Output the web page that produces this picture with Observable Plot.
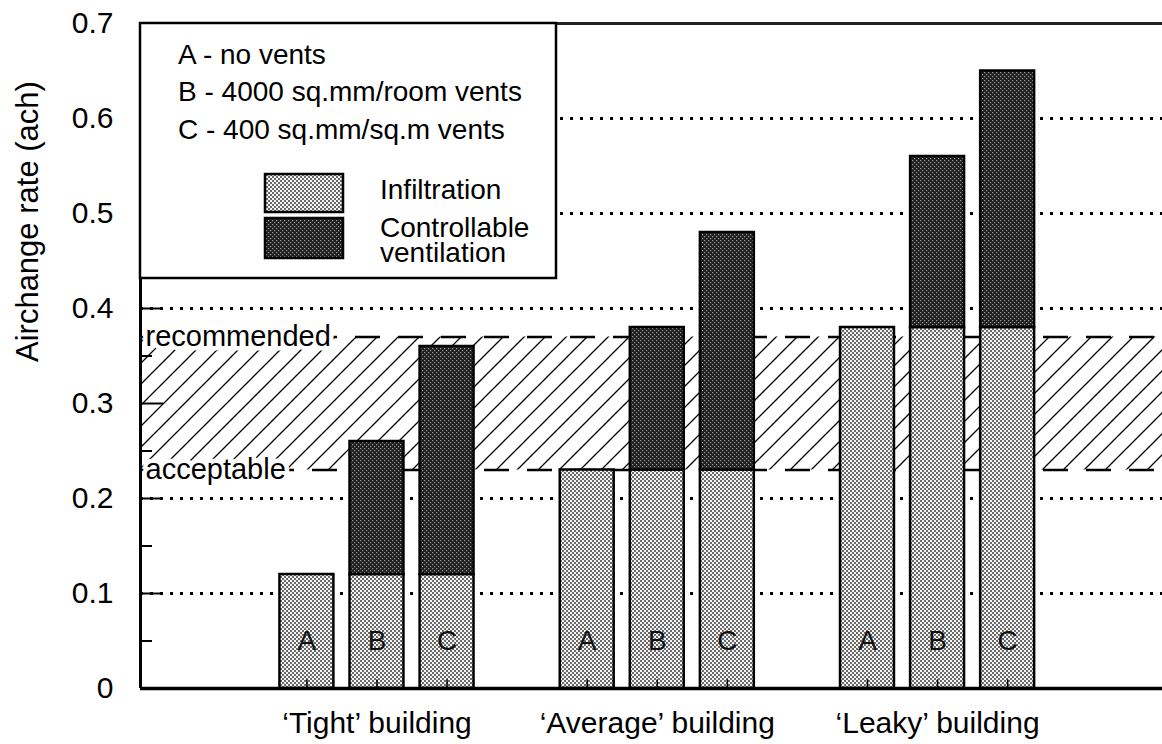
<!DOCTYPE html>
<html>
<head>
<meta charset="utf-8">
<script src="https://cdn.jsdelivr.net/npm/d3@7"></script>
<script src="https://cdn.jsdelivr.net/npm/@observablehq/plot@0.6"></script>
<style>
  html, body { margin: 0; padding: 0; background: white; }
</style>
</head>
<body>
<div id="chart"></div>
<script>
// ---- data ----
const categories = ["\u2018Tight\u2019 building", "\u2018Average\u2019 building", "\u2018Leaky\u2019 building"];
const variants = ["A", "B", "C"];
const infiltration = [[0.12, 0.12, 0.12], [0.23, 0.23, 0.23], [0.38, 0.38, 0.38]];
const controllable = [[0, 0.14, 0.24], [0, 0.15, 0.25], [0, 0.18, 0.27]];
const bandValues = [0.23, 0.37];
const bandLabels = ["acceptable", "recommended"];
const gridValues = [0.1, 0.2, 0.4, 0.5, 0.6];
const yTicks = [0, 0.1, 0.2, 0.3, 0.4, 0.5, 0.6, 0.7];
const yTickLabels = ["0", "0.1", "0.2", "0.3", "0.4", "0.5", "0.6", "0.7"];
const yMinorTicks = [0.05, 0.15, 0.25, 0.35, 0.45, 0.55, 0.65];
const legendNotes = ["A - no vents", "B - 4000 sq.mm/room vents", "C - 400 sq.mm/sq.m vents"];
const seriesNames = [["Infiltration"], ["Controllable", "ventilation"]];
const yTitle = "Airchange rate (ach)";

// ---- layout helpers ----
const slotsPerGroup = 4;           // 3 bars + 1 gap
const halfBar = 0.385;
const xDomain = [-2.375, 12.21];
const labelY = 0.05;

const rows = [];
categories.forEach((cat, g) => {
  variants.forEach((v, j) => {
    const inf = infiltration[g][j];
    const ctl = controllable[g][j];
    rows.push({cat, variant: v, pos: g * slotsPerGroup + j, inf, total: inf + ctl, ctl});
  });
});
const groupLabels = categories.map((c, g) => ({label: c, pos: g * slotsPerGroup + 1}));

const majorLen = 23 / 70.06;
const minorLen = 12 / 70.06;

const plot = Plot.plot({
  width: 1162,
  height: 744,
  marginLeft: 140,
  marginRight: 0,
  marginTop: 23,
  marginBottom: 56,
  style: {fontFamily: "'Liberation Sans', Arial, Helvetica, sans-serif", background: "white", color: "black"},
  x: {type: "linear", domain: xDomain, axis: null},
  y: {domain: [0, 0.7], axis: null},
  marks: [
    Plot.rect([bandValues], {x1: xDomain[0], x2: xDomain[1], y1: d => d[0], y2: d => d[1], fill: "url(#hatch)"}),
    Plot.ruleY(bandValues, {stroke: "black", strokeWidth: 2.5, strokeDasharray: "25,18"}),
    Plot.ruleY(gridValues, {stroke: "black", strokeWidth: 3, strokeDasharray: "3,7"}),
    Plot.rect(rows, {x1: d => d.pos - halfBar, x2: d => d.pos + halfBar, y1: 0, y2: "inf",
      fill: "url(#infil)", stroke: "black", strokeWidth: 2.5}),
    Plot.rect(rows.filter(d => d.ctl > 0), {x1: d => d.pos - halfBar, x2: d => d.pos + halfBar, y1: "inf", y2: "total",
      fill: "url(#ctrl)", stroke: "black", strokeWidth: 2.5}),
    Plot.ruleX(rows, {x: "pos", y1: 0, y2: 0.009, stroke: "black", strokeWidth: 1.5}),
    Plot.text(rows, {x: "pos", y: labelY, text: "variant", fontSize: 28, fill: "#111"}),
    Plot.text(bandValues, {x: xDomain[0], y: d => d, text: (d, i) => bandLabels[i], textAnchor: "start", dx: 5,
      fontSize: 29, fill: "black", stroke: "white", strokeWidth: 9}),
    Plot.ruleY([0], {stroke: "black", strokeWidth: 3.5}),
    Plot.ruleY([0.7], {stroke: "#222", strokeWidth: 3}),
    Plot.ruleX([xDomain[0]], {y1: 0, y2: 0.7, stroke: "black", strokeWidth: 3}),
    Plot.ruleY(yTicks, {x1: xDomain[0], x2: xDomain[0] + majorLen, stroke: "black", strokeWidth: 2}),
    Plot.ruleY(yMinorTicks, {x1: xDomain[0], x2: xDomain[0] + minorLen, stroke: "black", strokeWidth: 2}),
    Plot.axisY(yTicks, {tickSize: 0, tickPadding: 27, fontSize: 30, label: null,
      tickFormat: d => yTickLabels[yTicks.indexOf(d)]}),
    Plot.text(groupLabels, {x: "pos", y: 0, text: "label", dy: 35, fontSize: 30, fill: "black"}),
    Plot.text([yTitle], {frameAnchor: "left", text: d => d, rotate: -90, dx: -112, dy: 6, fontSize: 31, fill: "black"})
  ]
});

const svg = d3.select(plot);
const defs = svg.insert("defs", ":first-child");
const hatch = defs.append("pattern").attr("id", "hatch").attr("patternUnits", "userSpaceOnUse")
  .attr("width", 21).attr("height", 21);
hatch.append("path").attr("d", "M-2,2 L2,-2 M0,21 L21,0 M19,23 L23,19")
  .attr("stroke", "black").attr("stroke-width", 1.3).attr("fill", "none");
const infil = defs.append("pattern").attr("id", "infil").attr("patternUnits", "userSpaceOnUse")
  .attr("width", 4).attr("height", 4);
infil.append("rect").attr("width", 4).attr("height", 4).attr("fill", "#f4f4f4");
infil.append("rect").attr("x", 0).attr("y", 0).attr("width", 2).attr("height", 2).attr("fill", "#6a6a6a");
infil.append("rect").attr("x", 2).attr("y", 2).attr("width", 2).attr("height", 2).attr("fill", "#6a6a6a");
const ctrl = defs.append("pattern").attr("id", "ctrl").attr("patternUnits", "userSpaceOnUse")
  .attr("width", 4).attr("height", 4);
ctrl.append("rect").attr("width", 4).attr("height", 4).attr("fill", "#1e1e1e");
ctrl.append("rect").attr("x", 0).attr("y", 0).attr("width", 1.2).attr("height", 1.2).attr("fill", "#a0a0a0");
ctrl.append("rect").attr("x", 2).attr("y", 2).attr("width", 1.2).attr("height", 1.2).attr("fill", "#a0a0a0");

// legend box (inside plot, top-left)
const lg = svg.append("g")
  .attr("font-family", "'Liberation Sans', Arial, Helvetica, sans-serif")
  .attr("text-anchor", "start")
  .attr("fill", "black");
lg.append("rect").attr("x", 140).attr("y", 23).attr("width", 416).attr("height", 255)
  .attr("fill", "white").attr("stroke", "black").attr("stroke-width", 2.5);
const noteBaselines = [64, 101, 139];
legendNotes.forEach((t, i) => {
  lg.append("text").attr("x", 178).attr("y", noteBaselines[i]).attr("font-size", 28)
    .attr("text-anchor", "start").text(t);
});
const swatches = [{y: 174, h: 38, fill: "url(#infil)"}, {y: 218, h: 40, fill: "url(#ctrl)"}];
swatches.forEach(s => {
  lg.append("rect").attr("x", 265).attr("y", s.y).attr("width", 78).attr("height", s.h)
    .attr("fill", s.fill).attr("stroke", "black").attr("stroke-width", 2.5);
});
const nameBaselines = [[199], [237, 262]];
seriesNames.forEach((lines, i) => {
  lines.forEach((t, k) => {
    lg.append("text").attr("x", 380).attr("y", nameBaselines[i][k]).attr("font-size", 28)
      .attr("text-anchor", "start").text(t);
  });
});

document.getElementById("chart").appendChild(plot);
</script>
</body>
</html>
